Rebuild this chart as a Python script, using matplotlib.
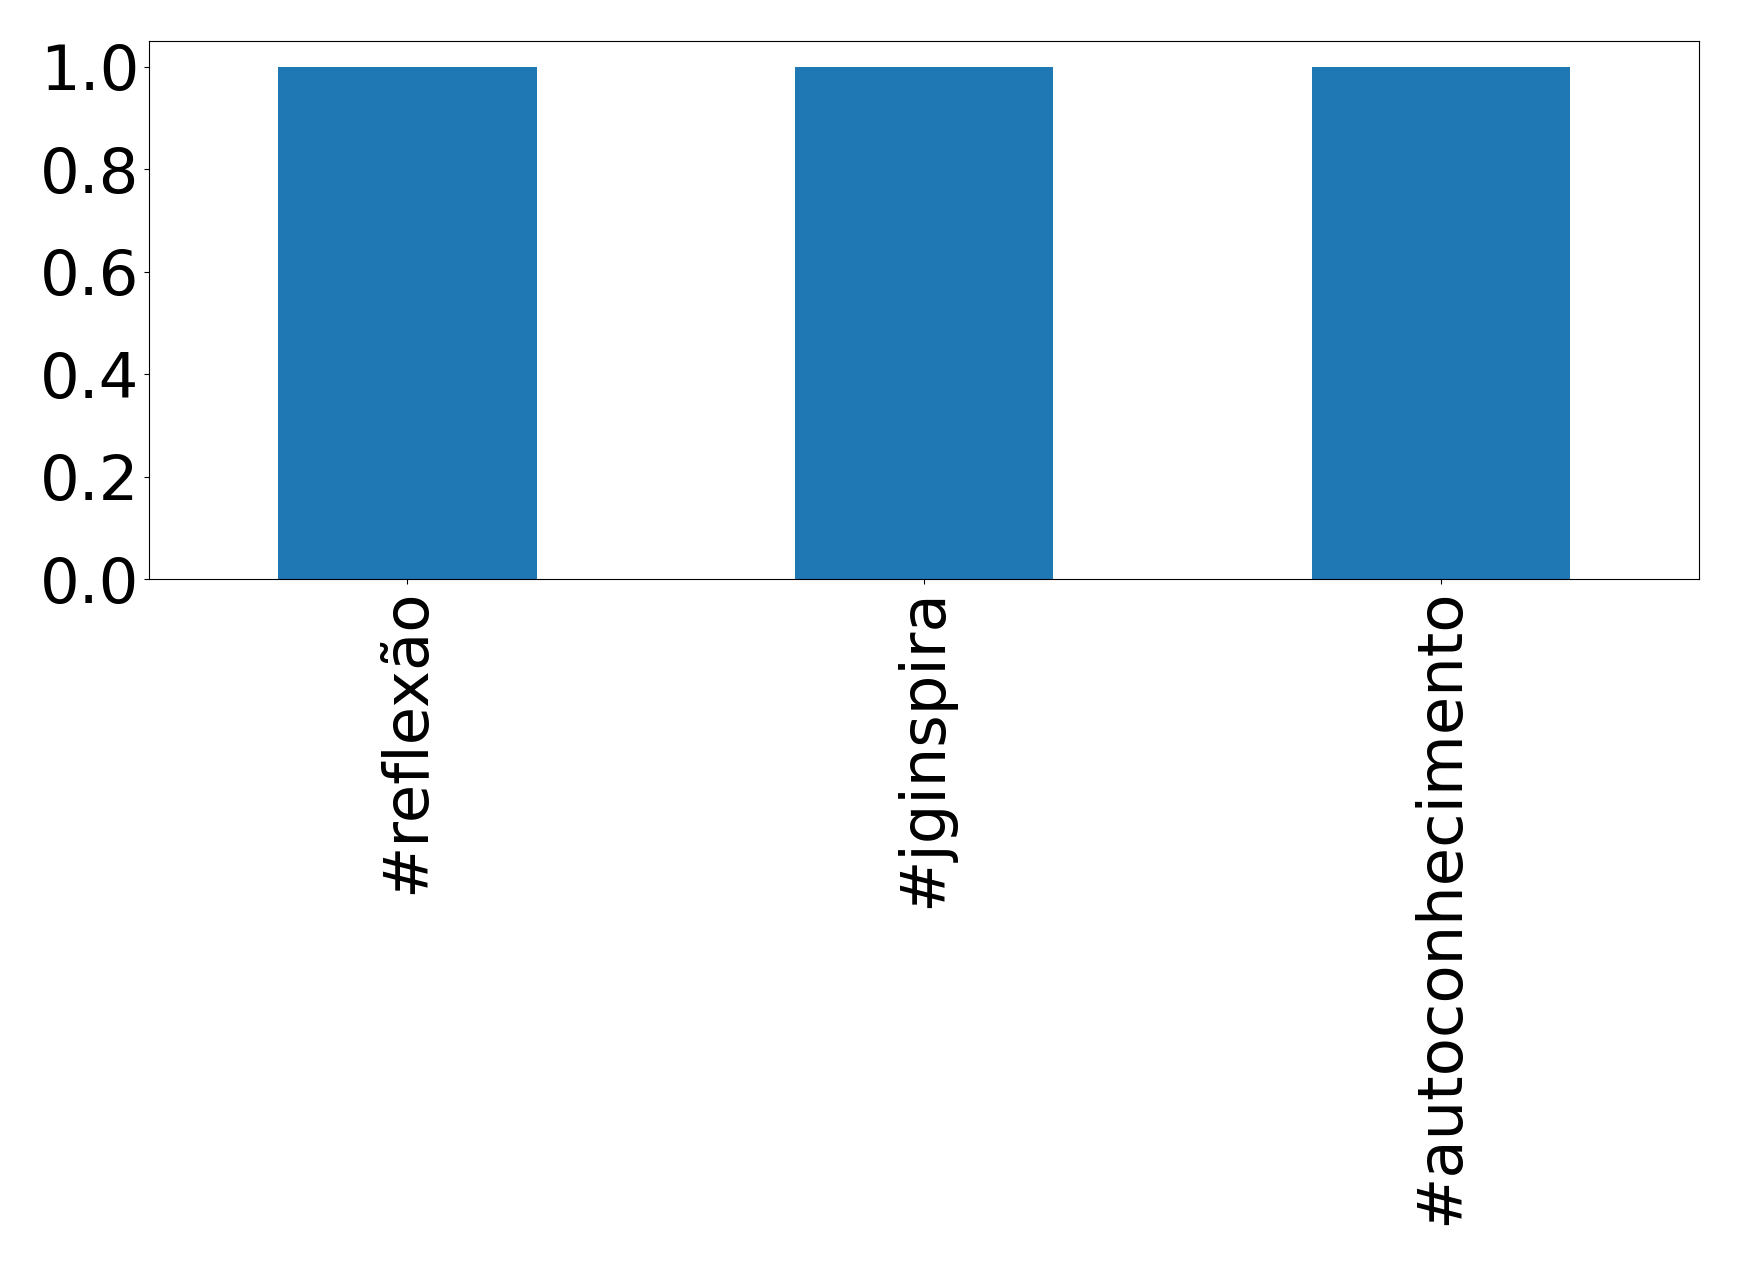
import matplotlib
matplotlib.use("Agg")
import matplotlib.pyplot as plt
import pandas as pd

hashtags = ["#reflexão", "#jginspira", "#autoconhecimento"]
counts = [1, 1, 1]

serie = pd.Series(counts, index=hashtags)

fig = plt.figure(figsize=(17.39, 12.65), dpi=100)
ax = fig.add_axes([149/1739, 1 - 579/1265, (1699-149)/1739, (579-41)/1265])
serie.plot(kind="bar", ax=ax, color="#1f77b4", fontsize=45)
ax.tick_params(axis="x", labelrotation=90)
fig.savefig("out.png", dpi=100)
